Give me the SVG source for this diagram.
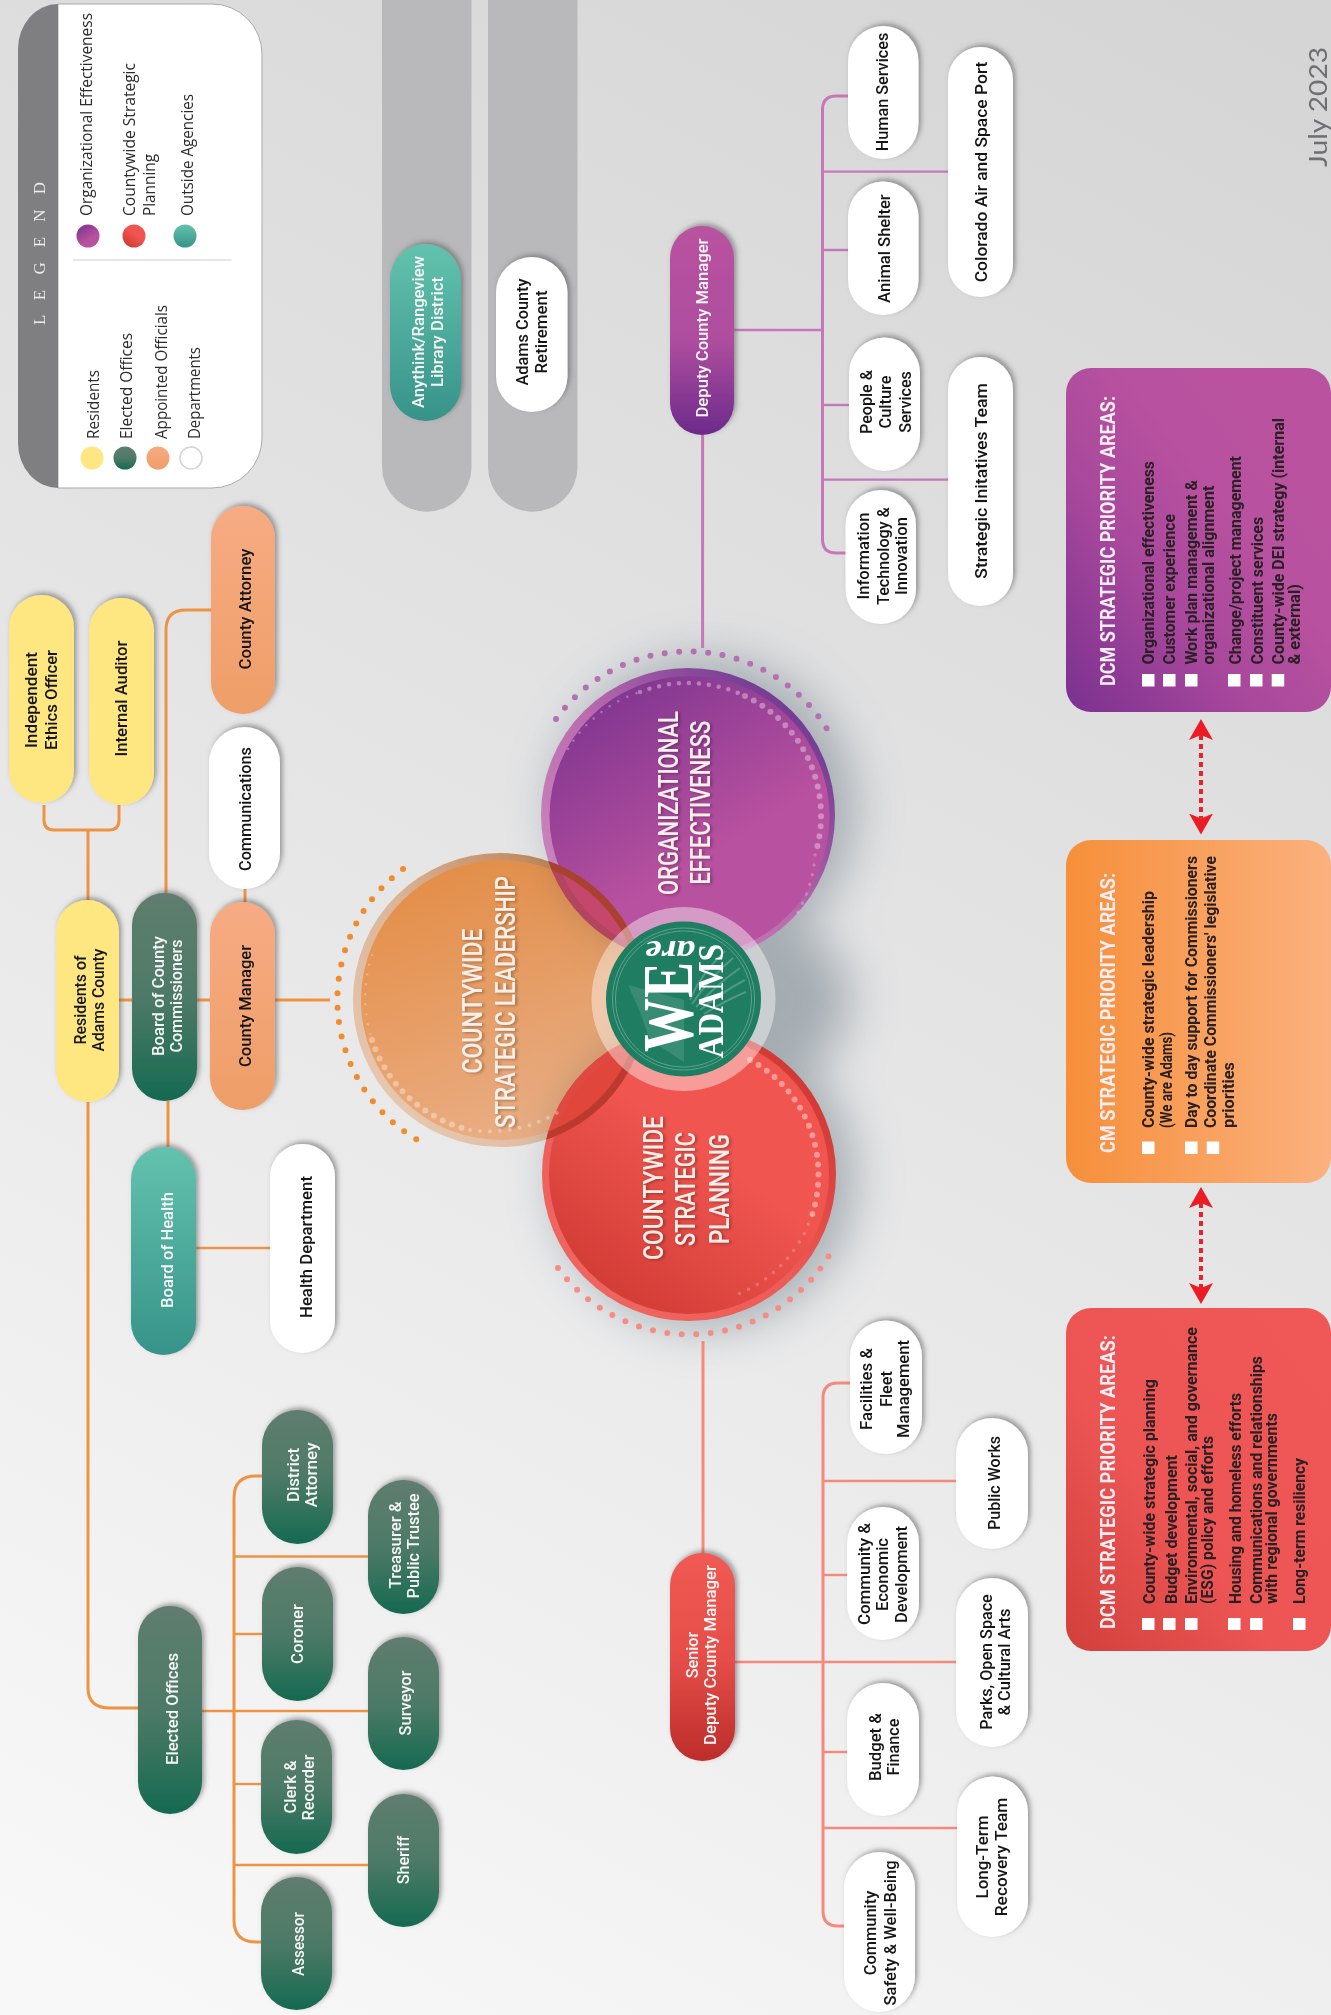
<svg xmlns="http://www.w3.org/2000/svg" width="1331" height="2015" viewBox="0 0 1331 2015">
<style>
text{font-family:Roboto,"Liberation Sans",sans-serif}
.n{font-size:16.5px;font-weight:500;text-anchor:middle;fill:#151517}
.w{font-size:16.5px;font-weight:500;text-anchor:middle;fill:#f6f6f6}
.p{font-size:16.5px;font-weight:700;fill:#2a2024}
.t{font-size:21px;font-weight:700;fill:#f6eef4}
.c{font-size:28px;font-weight:500;text-anchor:middle;fill:#f7f0ea}
.l{font-family:"Open Sans","Noto Sans",sans-serif;font-size:16px;fill:#2c2c2f}
.s{filter:url(#sh)}
.bar{fill:#b9b9bb}
.o{fill:none;stroke:#ee9343;stroke-width:3}
.o2{fill:none;stroke:#ee9343;stroke-width:2.4}
.r{fill:none;stroke:#f6897c;stroke-width:3}
.r2{fill:none;stroke:#f6897c;stroke-width:2.4}
.v{fill:none;stroke:#c677b9;stroke-width:3}
.v2{fill:none;stroke:#c677b9;stroke-width:2.4}
.dash{fill:none;stroke:#e8232b;stroke-width:4;stroke-dasharray:5 4}
.dot{fill:none;stroke-linecap:round;stroke-width:6;stroke-dasharray:0 14.5}
.ring{fill:none;stroke:#fff;stroke-linecap:round}
.sq{fill:#fff}
.lg{font-family:"Liberation Serif",serif;font-weight:700;fill:#fff;text-anchor:middle}
</style>
<defs>
<linearGradient id="bg" gradientUnits="userSpaceOnUse" x1="1200" y1="0" x2="130" y2="2015"><stop offset="0" stop-color="#d5d5d6"/><stop offset=".45" stop-color="#e4e4e5"/><stop offset="1" stop-color="#f8f8f8"/></linearGradient>
<linearGradient id="gG" x1="0" y1="0" x2="0" y2="1"><stop offset="0" stop-color="#5f7d6f"/><stop offset=".5" stop-color="#4d7a68"/><stop offset="1" stop-color="#156a50"/></linearGradient>
<linearGradient id="gO" x1="0" y1="0" x2="0" y2="1"><stop offset="0" stop-color="#f7ab83"/><stop offset="1" stop-color="#ee9e67"/></linearGradient>
<linearGradient id="gT" x1="0" y1="0" x2="0" y2="1"><stop offset="0" stop-color="#63c2ae"/><stop offset="1" stop-color="#379389"/></linearGradient>
<linearGradient id="gR" x1="0" y1="0" x2="0" y2="1"><stop offset="0" stop-color="#f05a53"/><stop offset=".5" stop-color="#e64e49"/><stop offset="1" stop-color="#bd2d2a"/></linearGradient>
<linearGradient id="gP" x1="0" y1="0" x2="0" y2="1"><stop offset="0" stop-color="#b9529f"/><stop offset=".55" stop-color="#ae4e9f"/><stop offset="1" stop-color="#6c2a8a"/></linearGradient>
<linearGradient id="bP" x1="0" y1="1" x2="1" y2="0"><stop offset="0" stop-color="#7a3090"/><stop offset=".35" stop-color="#a8489c"/><stop offset=".6" stop-color="#b8519f"/><stop offset="1" stop-color="#ba529f"/></linearGradient>
<linearGradient id="bO" x1="0" y1="0" x2="1" y2="0"><stop offset="0" stop-color="#f68f3a"/><stop offset="1" stop-color="#fbb17f"/></linearGradient>
<linearGradient id="bR" x1="0" y1="1" x2="1" y2="0"><stop offset="0" stop-color="#d2403b"/><stop offset=".4" stop-color="#ec5554"/><stop offset="1" stop-color="#ef5857"/></linearGradient>
<linearGradient id="cP0" x1="0" y1="1" x2="1" y2="0"><stop offset="0" stop-color="#cf92c3"/><stop offset=".5" stop-color="#bb6bae"/><stop offset="1" stop-color="#552887"/></linearGradient>
<linearGradient id="cP1" x1=".15" y1="0" x2=".55" y2=".65"><stop offset="0" stop-color="#7b338f"/><stop offset="1" stop-color="#b8519f"/></linearGradient>
<linearGradient id="cR0" x1="0" y1="1" x2="1" y2="0"><stop offset="0" stop-color="#ee6a64"/><stop offset=".5" stop-color="#ee5a55"/><stop offset="1" stop-color="#c42c28"/></linearGradient>
<linearGradient id="cR1" x1=".2" y1="1" x2=".6" y2=".45"><stop offset="0" stop-color="#cf3a33"/><stop offset="1" stop-color="#f05550"/></linearGradient>
<linearGradient id="cO0" x1="1" y1="0" x2="0" y2="1"><stop offset="0" stop-color="#c87c42"/><stop offset=".5" stop-color="#f3c8a6"/><stop offset="1" stop-color="#ffe0c8"/></linearGradient>
<linearGradient id="cO1" x1=".2" y1="0" x2=".6" y2="1"><stop offset="0" stop-color="#fd9c4c"/><stop offset="1" stop-color="#ffbf92"/></linearGradient>
<clipPath id="clipO"><circle cx="500" cy="1000" r="147"/></clipPath>
<clipPath id="clipP"><circle cx="688" cy="815" r="147"/></clipPath>
<clipPath id="clipR"><circle cx="689" cy="1174" r="147"/></clipPath>
<filter id="sh" x="-30%" y="-30%" width="160%" height="160%"><feDropShadow dx="2.5" dy="-2.5" stdDeviation="2.5" flood-color="#55555a" flood-opacity=".55"/></filter>
<filter id="bl" x="-50%" y="-50%" width="200%" height="200%"><feGaussianBlur stdDeviation="24"/></filter>
<filter id="ts" x="-20%" y="-20%" width="140%" height="140%"><feDropShadow dx="2" dy="1" stdDeviation="1.5" flood-color="#000" flood-opacity=".3"/></filter>
<marker id="ah" viewBox="0 0 21 24" refX="5" refY="12" markerWidth="21" markerHeight="24" markerUnits="userSpaceOnUse" orient="auto-start-reverse"><path d="M0,0 L21,12 L0,24 L5,12 Z" fill="#ed1c24"/></marker>
</defs>
<rect id="background" width="1331" height="2015" fill="url(#bg)"/>

<g id="legend">
<path fill="#fff" stroke="#a9a9ab" d="M58,4 H212 A50,50 0 0 1 262,54 V438 A50,50 0 0 1 212,488 H58 Z"/>
<path fill="#7f7f82" d="M58,4 A40,45 0 0 0 18,49 V443 A40,45 0 0 0 58,488 Z"/>
<text transform="translate(45,325) rotate(-90)" font-size="17" style="font-family:'Liberation Serif',serif;fill:#ececec" textLength="143" lengthAdjust="spacing">L E G E N D</text>
<line x1="72.7" y1="260" x2="231.5" y2="260" stroke="#d0d0d0" stroke-width="1.2"/>
<circle cx="92" cy="458" r="11.5" fill="#fee680"/><circle cx="125" cy="458" r="11.5" fill="url(#gG)"/><circle cx="158" cy="458" r="11.5" fill="url(#gO)"/><circle cx="191" cy="458" r="11" fill="#fff" stroke="#d4d4d4" stroke-width="1.5"/>
<circle cx="88" cy="236" r="11.5" fill="url(#cP1)"/><circle cx="134" cy="236" r="11.5" fill="url(#cR1)"/><circle cx="185" cy="236" r="11.5" fill="url(#gT)"/>
<text class="l" transform="translate(98.7,439) rotate(-90)" textLength="69" lengthAdjust="spacingAndGlyphs">Residents</text>
<text class="l" transform="translate(132,439) rotate(-90)" textLength="106" lengthAdjust="spacingAndGlyphs">Elected Offices</text>
<text class="l" transform="translate(166.5,439) rotate(-90)" textLength="134" lengthAdjust="spacingAndGlyphs">Appointed Officials</text>
<text class="l" transform="translate(199.8,439) rotate(-90)" textLength="92" lengthAdjust="spacingAndGlyphs">Departments</text>
<text class="l" transform="translate(91.8,216) rotate(-90)" textLength="203" lengthAdjust="spacingAndGlyphs">Organizational Effectiveness</text>
<text class="l" transform="translate(134.7,216) rotate(-90)" textLength="153" lengthAdjust="spacingAndGlyphs">Countywide Strategic</text>
<text class="l" transform="translate(155,216) rotate(-90)" textLength="62" lengthAdjust="spacingAndGlyphs">Planning</text>
<text class="l" transform="translate(193,216) rotate(-90)" textLength="122" lengthAdjust="spacingAndGlyphs">Outside Agencies</text>
</g>

<g id="outside-bars">
<path class="bar" d="M382,0 H471.5 V467 A44.75,44.75 0 0 1 382,467 Z"/>
<path class="bar" d="M488,0 H577.5 V467 A44.75,44.75 0 0 1 488,467 Z"/>
</g>

<g id="hub-shadow" filter="url(#bl)" fill="#8c979f" opacity=".72">
<circle cx="705" cy="808" r="150"/><circle cx="705" cy="1178" r="150"/><circle cx="775" cy="1000" r="75"/>
</g>

<g id="connectors">
<path class="o" d="M44,805 V820 Q44,830 54,830 H109 Q119,830 119,820 V805"/>
<path class="o" d="M88,900 V830"/>
<path class="o" d="M88,1102 V1688 Q88,1708 110,1708 H138"/>
<path class="o" d="M119,1000 H132"/>
<path class="o" d="M197,1000 H210"/>
<path class="o" d="M275,1000 H330"/>
<path class="o" d="M166,893 V630 Q166,610 186,610 H211"/>
<path class="o" d="M168,1101 V1147"/>
<path class="o" d="M245,889 V902"/>
<path class="o2" d="M196,1248 H270"/>
<path class="o" d="M262,1476 H256 Q234,1476 234,1498 V1920 Q234,1942 256,1942 H261"/>
<path class="o2" d="M202,1711 H368"/>
<path class="o2" d="M234,1556.5 H368"/>
<path class="o2" d="M234,1634 H262"/>
<path class="o2" d="M234,1784 H261"/>
<path class="o2" d="M234,1865 H368"/>
<path class="r" d="M703,1341 V1553"/>
<path class="r" d="M850,1383 H838 Q823,1383 823,1398 V1911 Q823,1926 838,1926 H844"/>
<path class="r2" d="M735,1662 H956"/>
<path class="r2" d="M823,1481 H956"/>
<path class="r2" d="M823,1575 H847"/>
<path class="r2" d="M823,1752 H847"/>
<path class="r2" d="M823,1828 H957"/>
<path class="v" d="M702.6,435 V648"/>
<path class="v" d="M848,96 H836 Q822.5,96 822.5,110 V539 Q822.5,553 836,553 H846"/>
<path class="v2" d="M734,330 H822.5"/>
<path class="v2" d="M822.5,171.6 H948"/>
<path class="v2" d="M822.5,250 H848"/>
<path class="v2" d="M822.5,405 H849"/>
<path class="v2" d="M822.5,479.6 H948"/>
<path class="dash" marker-start="url(#ah)" marker-end="url(#ah)" d="M1201,735 V818.5"/>
<path class="dash" marker-start="url(#ah)" marker-end="url(#ah)" d="M1201,1203 V1288"/>
</g>

<g id="node-county-attorney"><rect class="s" x="211" y="506" width="64" height="208" rx="32" fill="url(#gO)"/><text class="n" transform="translate(250.7,609) rotate(-90)" textLength="121" lengthAdjust="spacingAndGlyphs">County Attorney</text></g>
<g id="node-ethics-officer"><rect class="s" x="9" y="595" width="65" height="208" rx="32.5" fill="#fee680"/><text class="n" transform="translate(36.7,700) rotate(-90)" textLength="96" lengthAdjust="spacingAndGlyphs">Independent</text><text class="n" transform="translate(56.7,700) rotate(-90)" textLength="100" lengthAdjust="spacingAndGlyphs">Ethics Officer</text></g>
<g id="node-internal-auditor"><rect class="s" x="89" y="598" width="65" height="207" rx="32.5" fill="#fee680"/><text class="n" transform="translate(127.3,698.6) rotate(-90)" textLength="116" lengthAdjust="spacingAndGlyphs">Internal Auditor</text></g>
<g id="node-communications"><rect class="s" x="209" y="727" width="71" height="162" rx="35.5" fill="#fff"/><text class="n" transform="translate(250.7,809) rotate(-90)" textLength="124" lengthAdjust="spacingAndGlyphs">Communications</text></g>
<g id="node-residents"><rect class="s" x="56" y="900" width="63" height="202" rx="31.5" fill="#fee680"/><text class="n" transform="translate(86,1000) rotate(-90)" textLength="89" lengthAdjust="spacingAndGlyphs">Residents of</text><text class="n" transform="translate(104,1000) rotate(-90)" textLength="103" lengthAdjust="spacingAndGlyphs">Adams County</text></g>
<g id="node-bocc"><rect class="s" x="132" y="893" width="65" height="208" rx="32.5" fill="url(#gG)"/><text class="w" transform="translate(164,996) rotate(-90)" textLength="120" lengthAdjust="spacingAndGlyphs">Board of County</text><text class="w" transform="translate(182,996) rotate(-90)" textLength="113" lengthAdjust="spacingAndGlyphs">Commissioners</text></g>
<g id="node-county-manager"><rect class="s" x="210" y="902" width="65" height="208" rx="32.5" fill="url(#gO)"/><text class="n" transform="translate(250.7,1006) rotate(-90)" textLength="122" lengthAdjust="spacingAndGlyphs">County Manager</text></g>
<g id="node-board-of-health"><rect class="s" x="131" y="1147" width="65" height="208" rx="32.5" fill="url(#gT)"/><text class="w" transform="translate(173,1250) rotate(-90)" textLength="116" lengthAdjust="spacingAndGlyphs">Board of Health</text></g>
<g id="node-health-department"><rect class="s" x="270" y="1144" width="65" height="209" rx="32.5" fill="#fff"/><text class="n" transform="translate(311.7,1247) rotate(-90)" textLength="142" lengthAdjust="spacingAndGlyphs">Health Department</text></g>

<g id="node-elected-offices"><rect class="s" x="138" y="1606" width="64" height="208" rx="32" fill="url(#gG)"/><text class="w" transform="translate(177.7,1709) rotate(-90)" textLength="112" lengthAdjust="spacingAndGlyphs">Elected Offices</text></g>
<g id="node-district-attorney"><rect class="s" x="262" y="1410" width="71" height="134" rx="35.5" fill="url(#gG)"/><text class="w" transform="translate(298.7,1475) rotate(-90)" textLength="54" lengthAdjust="spacingAndGlyphs">District</text><text class="w" transform="translate(316.7,1475) rotate(-90)" textLength="65" lengthAdjust="spacingAndGlyphs">Attorney</text></g>
<g id="node-treasurer"><rect class="s" x="368" y="1480" width="71" height="134" rx="35.5" fill="url(#gG)"/><text class="w" transform="translate(400.7,1545) rotate(-90)" textLength="87" lengthAdjust="spacingAndGlyphs">Treasurer &amp;</text><text class="w" transform="translate(419.3,1546) rotate(-90)" textLength="105" lengthAdjust="spacingAndGlyphs">Public Trustee</text></g>
<g id="node-coroner"><rect class="s" x="262" y="1567" width="71" height="134" rx="35.5" fill="url(#gG)"/><text class="w" transform="translate(303,1634) rotate(-90)" textLength="60" lengthAdjust="spacingAndGlyphs">Coroner</text></g>
<g id="node-surveyor"><rect class="s" x="368" y="1637" width="71" height="133" rx="35.5" fill="url(#gG)"/><text class="w" transform="translate(410.7,1703) rotate(-90)" textLength="65" lengthAdjust="spacingAndGlyphs">Surveyor</text></g>
<g id="node-clerk"><rect class="s" x="261" y="1720" width="71" height="134" rx="35.5" fill="url(#gG)"/><text class="w" transform="translate(296,1787) rotate(-90)" textLength="53" lengthAdjust="spacingAndGlyphs">Clerk &amp;</text><text class="w" transform="translate(314,1787.5) rotate(-90)" textLength="66" lengthAdjust="spacingAndGlyphs">Recorder</text></g>
<g id="node-sheriff"><rect class="s" x="368" y="1794" width="71" height="133" rx="35.5" fill="url(#gG)"/><text class="w" transform="translate(409,1860) rotate(-90)" textLength="48.5" lengthAdjust="spacingAndGlyphs">Sheriff</text></g>
<g id="node-assessor"><rect class="s" x="261" y="1877" width="71" height="133" rx="35.5" fill="url(#gG)"/><text class="w" transform="translate(304,1944) rotate(-90)" textLength="64" lengthAdjust="spacingAndGlyphs">Assessor</text></g>

<g id="node-sdcm"><rect class="s" x="670" y="1553" width="65" height="208" rx="32.5" fill="url(#gR)"/><text class="w" transform="translate(697.7,1655) rotate(-90)" textLength="46.5" lengthAdjust="spacingAndGlyphs">Senior</text><text class="w" transform="translate(715.7,1655) rotate(-90)" textLength="180" lengthAdjust="spacingAndGlyphs">Deputy County Manager</text></g>
<g id="node-facilities"><rect class="s" x="850" y="1320.5" width="72" height="133.5" rx="36" fill="#fff"/><text class="n" transform="translate(872,1389) rotate(-90)" textLength="82" lengthAdjust="spacingAndGlyphs">Facilities &amp;</text><text class="n" transform="translate(891.7,1389) rotate(-90)" textLength="36" lengthAdjust="spacingAndGlyphs">Fleet</text><text class="n" transform="translate(909.3,1389) rotate(-90)" textLength="98" lengthAdjust="spacingAndGlyphs">Management</text></g>
<g id="node-public-works"><rect class="s" x="956" y="1418" width="72" height="131" rx="36" fill="#fff"/><text class="n" transform="translate(1000,1483) rotate(-90)" textLength="94" lengthAdjust="spacingAndGlyphs">Public Works</text></g>
<g id="node-community-econ"><rect class="s" x="847" y="1507" width="72" height="133" rx="36" fill="#fff"/><text class="n" transform="translate(870,1574) rotate(-90)" textLength="102" lengthAdjust="spacingAndGlyphs">Community &amp;</text><text class="n" transform="translate(888,1574.5) rotate(-90)" textLength="73" lengthAdjust="spacingAndGlyphs">Economic</text><text class="n" transform="translate(906.7,1574.5) rotate(-90)" textLength="97" lengthAdjust="spacingAndGlyphs">Development</text></g>
<g id="node-parks"><rect class="s" x="956" y="1578" width="72" height="169" rx="36" fill="#fff"/><text class="n" transform="translate(991.7,1662) rotate(-90)" textLength="135.5" lengthAdjust="spacingAndGlyphs">Parks, Open Space</text><text class="n" transform="translate(1010,1662) rotate(-90)" textLength="107" lengthAdjust="spacingAndGlyphs">&amp; Cultural Arts</text></g>
<g id="node-budget"><rect class="s" x="847" y="1683" width="72" height="133" rx="36" fill="#fff"/><text class="n" transform="translate(880.7,1747) rotate(-90)" textLength="68" lengthAdjust="spacingAndGlyphs">Budget &amp;</text><text class="n" transform="translate(899.3,1747) rotate(-90)" textLength="57" lengthAdjust="spacingAndGlyphs">Finance</text></g>
<g id="node-long-term"><rect class="s" x="957" y="1776.5" width="71" height="160.5" rx="35.5" fill="#fff"/><text class="n" transform="translate(988,1857) rotate(-90)" textLength="83" lengthAdjust="spacingAndGlyphs">Long-Term</text><text class="n" transform="translate(1006.7,1857) rotate(-90)" textLength="118.5" lengthAdjust="spacingAndGlyphs">Recovery Team</text></g>
<g id="node-community-safety"><rect class="s" x="844" y="1852" width="71" height="160" rx="35.5" fill="#fff"/><text class="n" transform="translate(876,1933) rotate(-90)" textLength="84.5" lengthAdjust="spacingAndGlyphs">Community</text><text class="n" transform="translate(896,1933) rotate(-90)" textLength="145" lengthAdjust="spacingAndGlyphs">Safety &amp; Well-Being</text></g>

<g id="node-dcm"><rect class="s" x="670" y="226" width="64" height="209" rx="32" fill="url(#gP)"/><text class="w" transform="translate(707.8,328) rotate(-90)" textLength="179" lengthAdjust="spacingAndGlyphs">Deputy County Manager</text></g>
<g id="node-human-services"><rect class="s" x="848" y="26" width="70.5" height="133" rx="35" fill="#fff"/><text class="n" transform="translate(888,92) rotate(-90)" textLength="118.6" lengthAdjust="spacingAndGlyphs">Human Services</text></g>
<g id="node-colorado-air"><rect class="s" x="948" y="47" width="65" height="250" rx="32.5" fill="#fff"/><text class="n" transform="translate(986.7,172) rotate(-90)" textLength="220.7" lengthAdjust="spacingAndGlyphs">Colorado Air and Space Port</text></g>
<g id="node-animal-shelter"><rect class="s" x="848" y="181.6" width="70.5" height="133.4" rx="35" fill="#fff"/><text class="n" transform="translate(889.8,248.6) rotate(-90)" textLength="108.6" lengthAdjust="spacingAndGlyphs">Animal Shelter</text></g>
<g id="node-people"><rect class="s" x="849" y="337.5" width="71" height="133.5" rx="35.5" fill="#fff"/><text class="n" transform="translate(871.5,402) rotate(-90)" textLength="64" lengthAdjust="spacingAndGlyphs">People &amp;</text><text class="n" transform="translate(891,402) rotate(-90)" textLength="53" lengthAdjust="spacingAndGlyphs">Culture</text><text class="n" transform="translate(910.6,402) rotate(-90)" textLength="61.7" lengthAdjust="spacingAndGlyphs">Services</text></g>
<g id="node-strategic-init"><rect class="s" x="948" y="357" width="65" height="249" rx="32.5" fill="#fff"/><text class="n" transform="translate(986.7,481) rotate(-90)" textLength="195.5" lengthAdjust="spacingAndGlyphs">Strategic Initatives Team</text></g>
<g id="node-it"><rect class="s" x="845.5" y="490" width="70.5" height="134" rx="35" fill="#fff"/><text class="n" transform="translate(869.4,556) rotate(-90)" textLength="87" lengthAdjust="spacingAndGlyphs">Information</text><text class="n" transform="translate(889,556) rotate(-90)" textLength="97.7" lengthAdjust="spacingAndGlyphs">Technology &amp;</text><text class="n" transform="translate(907,556) rotate(-90)" textLength="78" lengthAdjust="spacingAndGlyphs">Innovation</text></g>

<g id="node-anythink"><rect class="s" x="390" y="244" width="71" height="177" rx="35.5" fill="url(#gT)"/><text class="w" transform="translate(424,332) rotate(-90)" textLength="152" lengthAdjust="spacingAndGlyphs">Anythink/Rangeview</text><text class="w" transform="translate(442.8,332) rotate(-90)" textLength="110" lengthAdjust="spacingAndGlyphs">Library District</text></g>
<g id="node-retirement"><rect class="s" x="496" y="257" width="71.5" height="155" rx="35.7" fill="#fff"/><text class="n" transform="translate(528,332) rotate(-90)" textLength="107" lengthAdjust="spacingAndGlyphs">Adams County</text><text class="n" transform="translate(547,332) rotate(-90)" textLength="83" lengthAdjust="spacingAndGlyphs">Retirement</text></g>

<g id="circle-organizational">
<circle cx="688" cy="815" r="147" fill="url(#cP0)"/>
<circle cx="689.5" cy="816" r="140" fill="url(#cP1)"/>
<path class="dot" stroke="#b66fb0" d="M556,719 A163,163 0 0 1 831,736"/>
<path class="ring" stroke-width="2.5" stroke-dasharray="0 10" opacity=".3" d="M568,749 A132,132 0 0 1 640,692"/>
<path class="ring" stroke-width="4.5" stroke-dasharray="0 10" opacity=".35" d="M640,692 A132,132 0 0 1 745,696"/>
<path class="ring" stroke-width="6" stroke-dasharray="0 10" opacity=".35" d="M745,696 A132,132 0 0 1 815,855"/>
<path class="ring" stroke-width="3.5" stroke-dasharray="0 10" opacity=".25" d="M815,855 A132,132 0 0 1 795,917"/>
</g>
<g id="circle-planning">
<circle cx="689" cy="1174" r="147" fill="url(#cR0)"/>
<circle cx="689" cy="1174" r="140" fill="url(#cR1)"/>
<path class="dot" stroke="#f58d85" d="M558,1268 A163,163 0 0 0 831,1252"/>
<path class="ring" stroke-width="6" stroke-dasharray="0 10" opacity=".4" d="M750,1060 A130,130 0 0 1 812,1215"/>
<path class="ring" stroke-width="3.5" stroke-dasharray="0 10" opacity=".22" d="M812,1215 A130,130 0 0 1 733,1296"/>
</g>
<g id="circle-leadership">
<path class="dot" stroke="#f08c2e" d="M403,869 A163,163 0 0 0 420,1141.5"/>
<g style="mix-blend-mode:multiply">
<circle cx="500" cy="1000" r="147" fill="url(#cO0)"/>
<circle cx="501" cy="1000" r="140" fill="url(#cO1)"/>
</g>
<g clip-path="url(#clipO)">
<circle cx="688" cy="815" r="147" fill="#b2455f"/><circle cx="689.5" cy="816" r="140" fill="#c5476c"/>
<circle cx="689" cy="1174" r="147" fill="#de4a42"/><circle cx="689" cy="1174" r="140" fill="#e0463c"/>
</g>
<g clip-path="url(#clipP)"><circle cx="500" cy="1000" r="143.5" fill="none" stroke="#a8412f" stroke-width="7"/></g>
<g clip-path="url(#clipR)"><circle cx="500" cy="1000" r="143.5" fill="none" stroke="#bb3a2e" stroke-width="7"/></g>
<path class="ring" stroke-width="2.5" stroke-dasharray="0 10" opacity=".25" d="M372,955 A136,136 0 0 0 372,1040"/>
<path class="ring" stroke-width="6" stroke-dasharray="0 10" opacity=".35" d="M372,1040 A136,136 0 0 0 470,1130"/>
<path class="ring" stroke-width="4" stroke-dasharray="0 10" opacity=".3" d="M470,1130 A136,136 0 0 0 565,1108"/>
</g>
<g id="circle-labels" filter="url(#ts)">
<text class="c" transform="translate(678,803) rotate(-90)" textLength="184" lengthAdjust="spacingAndGlyphs">ORGANIZATIONAL</text>
<text class="c" transform="translate(710,802.6) rotate(-90)" textLength="164" lengthAdjust="spacingAndGlyphs">EFFECTIVENESS</text>
<text class="c" transform="translate(481.8,1001) rotate(-90)" textLength="145" lengthAdjust="spacingAndGlyphs">COUNTYWIDE</text>
<text class="c" transform="translate(514.6,1002) rotate(-90)" textLength="252" lengthAdjust="spacingAndGlyphs">STRATEGIC LEADERSHIP</text>
<text class="c" transform="translate(662.6,1188) rotate(-90)" textLength="144" lengthAdjust="spacingAndGlyphs">COUNTYWIDE</text>
<text class="c" transform="translate(695,1189) rotate(-90)" textLength="114" lengthAdjust="spacingAndGlyphs">STRATEGIC</text>
<text class="c" transform="translate(728.7,1189) rotate(-90)" textLength="110" lengthAdjust="spacingAndGlyphs">PLANNING</text>
</g>

<g id="logo">
<circle cx="683.5" cy="999" r="92" fill="#fff" opacity=".42"/>
<circle cx="683.5" cy="999" r="77.5" fill="#1f7d62"/>
<circle cx="683.5" cy="999" r="71" fill="none" stroke="#5ea28d" stroke-width="1"/>
<circle cx="683.5" cy="999" r="68" fill="none" stroke="#5ea28d" stroke-width="1"/>
<g fill="none" stroke="#4e9a83" stroke-width="2">
<path d="M725,951 Q700,975 690,1000"/><path d="M733,958 Q708,980 692,1004"/><path d="M740,968 Q716,985 696,1007"/><path d="M745,980 Q722,992 700,1010"/><path d="M746,992 Q726,1000 704,1014"/>
</g>
<path d="M628,985 L684,1000 L684,1062 L650,1040 L640,1012 Z" fill="#4a9680" opacity=".6"/>
<text class="lg" transform="translate(692,1007) rotate(-90)" font-size="71" textLength="90" lengthAdjust="spacingAndGlyphs">WE</text>
<text class="lg" transform="translate(723,1001) rotate(-90)" font-size="35" textLength="114" lengthAdjust="spacingAndGlyphs">ADAMS</text>
<text class="lg" transform="translate(670,941) rotate(180)" font-size="32" font-style="italic" textLength="50" lengthAdjust="spacingAndGlyphs">are</text>
</g>

<g id="box-dcm-effectiveness">
<rect x="1066" y="368" width="265" height="344" rx="25" fill="url(#bP)"/>
<text class="t" transform="translate(1115,686) rotate(-90)" textLength="290" lengthAdjust="spacingAndGlyphs">DCM STRATEGIC PRIORITY AREAS:</text>
<rect class="sq" x="1142" y="674" width="12.5" height="12.5"/><rect class="sq" x="1163" y="674" width="12.5" height="12.5"/><rect class="sq" x="1185" y="674" width="12.5" height="12.5"/><rect class="sq" x="1228" y="674" width="12.5" height="12.5"/><rect class="sq" x="1250" y="674" width="12.5" height="12.5"/><rect class="sq" x="1271.7" y="674" width="12.5" height="12.5"/>
<text class="p" transform="translate(1154,664.6) rotate(-90)" textLength="203.6" lengthAdjust="spacingAndGlyphs">Organizational effectiveness</text>
<text class="p" transform="translate(1174.8,664.6) rotate(-90)" textLength="150.6" lengthAdjust="spacingAndGlyphs">Customer experience</text>
<text class="p" transform="translate(1196.5,664.6) rotate(-90)" textLength="184.6" lengthAdjust="spacingAndGlyphs">Work plan management &amp;</text>
<text class="p" transform="translate(1214,664.6) rotate(-90)" textLength="179" lengthAdjust="spacingAndGlyphs">organizational alignment</text>
<text class="p" transform="translate(1240.8,664.6) rotate(-90)" textLength="208.6" lengthAdjust="spacingAndGlyphs">Change/project management</text>
<text class="p" transform="translate(1262.5,664.6) rotate(-90)" textLength="147.7" lengthAdjust="spacingAndGlyphs">Constituent services</text>
<text class="p" transform="translate(1284,664.6) rotate(-90)" textLength="246.6" lengthAdjust="spacingAndGlyphs">County-wide DEI strategy (internal</text>
<text class="p" transform="translate(1300,664.6) rotate(-90)" textLength="80.6" lengthAdjust="spacingAndGlyphs">&amp; external)</text>
</g>
<g id="box-cm">
<rect x="1066" y="840" width="265" height="343" rx="25" fill="url(#bO)"/>
<text class="t" transform="translate(1115,1153) rotate(-90)" textLength="280" lengthAdjust="spacingAndGlyphs">CM STRATEGIC PRIORITY AREAS:</text>
<rect class="sq" x="1142" y="1141.5" width="12.5" height="12.5"/><rect class="sq" x="1185" y="1141.5" width="12.5" height="12.5"/><rect class="sq" x="1206.7" y="1141.5" width="12.5" height="12.5"/>
<text class="p" transform="translate(1154,1128) rotate(-90)" textLength="237" lengthAdjust="spacingAndGlyphs">County-wide strategic leadership</text>
<text class="p" transform="translate(1171.7,1128) rotate(-90)" textLength="96" lengthAdjust="spacingAndGlyphs">(We are Adams)</text>
<text class="p" transform="translate(1196.7,1128) rotate(-90)" textLength="272" lengthAdjust="spacingAndGlyphs">Day to day support for Commissioners</text>
<text class="p" transform="translate(1215.7,1128) rotate(-90)" textLength="272" lengthAdjust="spacingAndGlyphs">Coordinate Commissioners' legislative</text>
<text class="p" transform="translate(1234,1128) rotate(-90)" textLength="66" lengthAdjust="spacingAndGlyphs">priorities</text>
</g>
<g id="box-dcm-planning">
<rect x="1066" y="1308" width="265" height="343" rx="25" fill="url(#bR)"/>
<text class="t" transform="translate(1115,1629) rotate(-90)" textLength="294" lengthAdjust="spacingAndGlyphs">DCM STRATEGIC PRIORITY AREAS:</text>
<rect class="sq" x="1142" y="1618" width="12.5" height="12"/><rect class="sq" x="1163" y="1618" width="12.5" height="12"/><rect class="sq" x="1185" y="1618" width="12.5" height="12"/><rect class="sq" x="1228" y="1618" width="12.5" height="12"/><rect class="sq" x="1250" y="1618" width="12.5" height="12"/><rect class="sq" x="1293" y="1618" width="12.5" height="12"/>
<text class="p" transform="translate(1155,1604) rotate(-90)" textLength="225" lengthAdjust="spacingAndGlyphs">County-wide strategic planning</text>
<text class="p" transform="translate(1176.7,1604) rotate(-90)" textLength="149" lengthAdjust="spacingAndGlyphs">Budget development</text>
<text class="p" transform="translate(1196.7,1604) rotate(-90)" textLength="277" lengthAdjust="spacingAndGlyphs">Environmental, social, and governance</text>
<text class="p" transform="translate(1213,1604) rotate(-90)" textLength="168" lengthAdjust="spacingAndGlyphs">(ESG) policy and efforts</text>
<text class="p" transform="translate(1241,1604) rotate(-90)" textLength="211" lengthAdjust="spacingAndGlyphs">Housing and homeless efforts</text>
<text class="p" transform="translate(1261.7,1604) rotate(-90)" textLength="248" lengthAdjust="spacingAndGlyphs">Communications and relationships</text>
<text class="p" transform="translate(1277.3,1604) rotate(-90)" textLength="191" lengthAdjust="spacingAndGlyphs">with regional governments</text>
<text class="p" transform="translate(1305,1604) rotate(-90)" textLength="146" lengthAdjust="spacingAndGlyphs">Long-term resiliency</text>
</g>
<text id="date" transform="translate(1327,167) rotate(-90)" font-size="25" font-weight="400" fill="#6e6e73" style="font-family:Lato,'Open Sans',sans-serif" textLength="120" lengthAdjust="spacingAndGlyphs">July 2023</text>
</svg>
